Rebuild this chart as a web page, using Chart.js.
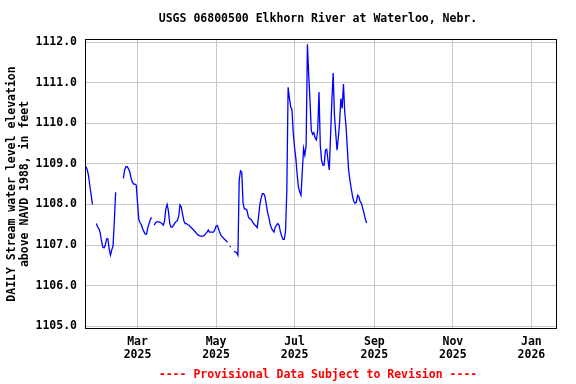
<!DOCTYPE html>
<html>
<head>
<meta charset="utf-8">
<script src="https://cdn.jsdelivr.net/npm/chart.js@4.4.1/dist/chart.umd.min.js"></script>
<style>
  html, body { margin: 0; padding: 0; background: #ffffff; }
  canvas { display: block; }
</style>
</head>
<body>
<canvas id="c" width="576" height="384"></canvas>
<script>
// Day-of-year 2025 (0 = Jan 1) of the first value
const startDay = 19; // Jan 20, 2025
// Daily stream water level elevation (ft above NAVD 1988); null = no data
const levels = [
  1108.93, 1108.85, 1108.70, 1108.45, 1108.23, 1108.00, null, null,
  1107.53, 1107.45, 1107.40, 1107.30, 1107.10, 1106.95, 1106.93, 1107.00,
  1107.15, 1107.15, 1106.90, 1106.75, 1106.88, 1106.98, 1107.60, 1108.30,
  null, null, null, null, null,
  1108.64, 1108.85, 1108.93, 1108.93, 1108.88, 1108.80, 1108.65, 1108.55,
  1108.50, 1108.50, 1108.48, 1108.05, 1107.63, 1107.55, 1107.50, 1107.40,
  1107.33, 1107.27, 1107.27, 1107.43, 1107.53, 1107.63, 1107.68, null,
  1107.49, 1107.55, 1107.57, 1107.57, 1107.57, 1107.55, 1107.53, 1107.49,
  1107.59, 1107.89, 1108.00, 1107.84, 1107.54, 1107.44, 1107.44, 1107.49,
  1107.54, 1107.58, 1107.60, 1107.71, 1107.99, 1107.94, 1107.76, 1107.60,
  1107.53, 1107.53, 1107.50, 1107.49, 1107.45, 1107.42, 1107.39, 1107.35,
  1107.32, 1107.28, 1107.25, 1107.23, 1107.22, 1107.22, 1107.22, 1107.24,
  1107.28, 1107.32, 1107.37, 1107.32, 1107.32, 1107.32, 1107.32, 1107.37,
  1107.47, 1107.48, 1107.39, 1107.30, 1107.23, 1107.20, 1107.16, 1107.13,
  1107.10, 1107.07, null, 1106.96, null, null,
  1106.84, 1106.83, 1106.81, 1106.75, 1108.60, 1108.83, 1108.80, 1108.03,
  1107.89, 1107.89, 1107.86, 1107.71, 1107.65, 1107.64, 1107.59, 1107.54,
  1107.50, 1107.47, 1107.43, 1107.69, 1107.99, 1108.15, 1108.27, 1108.27,
  1108.20, 1108.01, 1107.81, 1107.69, 1107.52, 1107.42, 1107.36, 1107.32,
  1107.44, 1107.49, 1107.53, 1107.49, 1107.33, 1107.22, 1107.14, 1107.14,
  1107.34, 1108.35, 1110.89, 1110.62, 1110.41, 1110.33, 1109.76, 1109.41,
  1109.14, 1108.75, 1108.43, 1108.31, 1108.23, 1108.80, 1109.38, 1109.22,
  1109.46, 1111.95, 1111.19, 1110.57, 1109.83, 1109.73, 1109.77, 1109.64,
  1109.59, 1109.83, 1110.77, 1109.46, 1109.09, 1108.97, 1108.97, 1109.34,
  1109.36, 1109.09, 1108.85, 1109.71, 1110.57, 1111.24, 1110.20, 1109.76,
  1109.34, 1109.64, 1110.03, 1110.61, 1110.37, 1110.97, 1110.28, 1109.93,
  1109.39, 1108.85, 1108.60, 1108.40, 1108.21, 1108.08, 1108.03, 1108.06,
  1108.23, 1108.19, 1108.07, 1108.03, 1107.90, 1107.78, 1107.64, 1107.54
];
// X tick positions (day-of-year 2025) and their labels
const tickDays = [59, 120, 181, 243, 304, 365];
const tickMonths = ['Mar', 'May', 'Jul', 'Sep', 'Nov', 'Jan'];
const tickYears = ['2025', '2025', '2025', '2025', '2025', '2026'];
// Y tick values
const yTicks = [1105, 1106, 1107, 1108, 1109, 1110, 1111, 1112];

const titleText = 'USGS 06800500 Elkhorn River at Waterloo, Nebr.';
const footerText = '---- Provisional Data Subject to Revision ----';
const yTitle = ['DAILY Stream water level elevation', 'above NAVD 1988, in feet'];

const monoFont = { family: '"DejaVu Sans Mono", "Liberation Mono", monospace', size: 11.5, weight: 'bold', lineHeight: '13px' };

const points = levels.map((v, i) => ({ x: startDay + i, y: v }));

const framePlugin = {
  id: 'frame',
  afterDatasetsDraw(chart) {
    const { ctx, chartArea: a } = chart;
    ctx.save();
    ctx.strokeStyle = '#000000';
    ctx.lineWidth = 1;
    ctx.strokeRect(a.left + 0.5, a.top + 0.5, a.right - a.left - 1, a.bottom - a.top - 1);
    ctx.restore();
  },
  afterDraw(chart) {
    const { ctx, chartArea: a } = chart;
    const cx = (a.left + a.right) / 2 - 3;
    ctx.save();
    ctx.font = 'bold 11.5px "DejaVu Sans Mono", "Liberation Mono", monospace';
    ctx.textAlign = 'center';
    ctx.textBaseline = 'middle';
    ctx.fillStyle = '#000000';
    ctx.fillText(titleText, cx, 19);
    ctx.fillStyle = '#ff0000';
    ctx.fillText(footerText, cx, 375);
    ctx.restore();
  }
};

function isIsolated(ctx) {
  const i = ctx.dataIndex;
  if (levels[i] == null) return false;
  const prev = i > 0 ? levels[i - 1] : null;
  const next = i < levels.length - 1 ? levels[i + 1] : null;
  return prev == null && next == null;
}

new Chart(document.getElementById('c'), {
  type: 'line',
  data: {
    datasets: [{
      data: points,
      borderColor: '#0000ff',
      backgroundColor: '#0000ff',
      borderWidth: 1.3,
      spanGaps: false,
      tension: 0,
      pointStyle: 'rect',
      pointBorderWidth: 0,
      pointRadius: (ctx) => isIsolated(ctx) ? 0.9 : 0,
      pointHoverRadius: 0
    }]
  },
  options: {
    responsive: false,
    devicePixelRatio: 1,
    animation: false,
    events: [],
    layout: { padding: { top: 39, right: 19, left: 0, bottom: 0 } },
    plugins: {
      legend: { display: false },
      tooltip: { enabled: false },
      title: { display: false }
    },
    scales: {
      x: {
        type: 'linear',
        min: 18.2,
        max: 384.9,
        afterBuildTicks: (axis) => { axis.ticks = tickDays.map(v => ({ value: v })); },
        afterFit: (axis) => { axis.height = 55; },
        ticks: {
          autoSkip: false,
          maxRotation: 0,
          minRotation: 0,
          padding: 7,
          color: '#000000',
          font: monoFont,
          callback: (value) => {
            const i = tickDays.indexOf(value);
            return i >= 0 ? [tickMonths[i], tickYears[i]] : '';
          }
        },
        grid: { color: '#c8c8c8', lineWidth: 1, drawTicks: false },
        border: { display: false }
      },
      y: {
        type: 'linear',
        min: 1104.93,
        max: 1112.08,
        afterBuildTicks: (axis) => { axis.ticks = yTicks.map(v => ({ value: v })); },
        afterFit: (axis) => { axis.width = 85; },
        ticks: {
          padding: 8,
          color: '#000000',
          font: monoFont,
          callback: (value) => Number(value).toFixed(1)
        },
        grid: { color: '#c8c8c8', lineWidth: 1, drawTicks: false },
        border: { display: false },
        title: {
          display: true,
          text: yTitle,
          color: '#000000',
          font: monoFont,
          padding: { top: 6, bottom: 0 }
        }
      }
    }
  },
  plugins: [framePlugin]
});
</script>
</body>
</html>
